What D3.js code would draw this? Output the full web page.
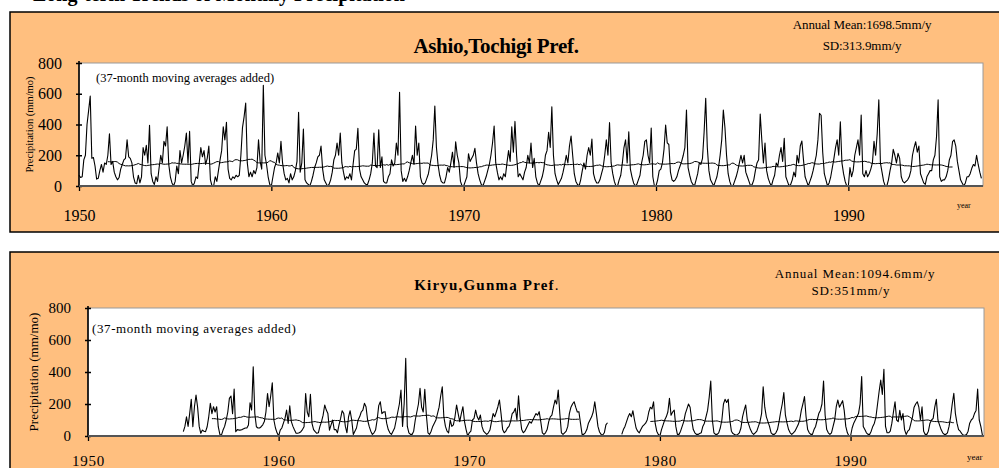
<!DOCTYPE html>
<html>
<head>
<meta charset="utf-8">
<script src="https://cdn.jsdelivr.net/npm/d3@7"></script>
<style>
  body { margin: 0; background: #fff; }
  svg { display: block; font-family: "Liberation Serif", "Times New Roman", serif; }
</style>
</head>
<body>
<svg id="chart" width="999" height="468"></svg>
<script>
// monthly precipitation (mm/mo), Jan..Dec, one line per year
var ashioStart = 1950;
var ashioPrecip = [
  70,55,60,170,200,400,490,585,180,185,130,45,      // 1950
  50,100,140,90,150,140,200,340,140,160,90,60,      // 1951
  40,55,110,140,170,180,300,190,180,150,60,20,      // 1952
  15,70,20,60,250,200,265,150,395,80,30,10,         // 1953
  60,30,120,200,150,290,260,385,140,60,20,0,        // 1954
  30,130,80,230,150,200,260,345,150,355,30,0,       // 1955
  20,60,50,150,250,190,230,140,180,260,40,0,        // 1956
  0,60,30,100,170,230,385,300,415,110,50,40,        // 1957
  60,50,70,60,70,200,380,450,540,150,60,90,         // 1958
  60,100,80,120,300,160,110,655,200,140,60,10,      // 1959
  0,60,120,150,215,150,290,150,80,40,50,20,         // 1960
  80,40,60,100,160,480,90,150,370,40,20,10,         // 1961
  0,30,70,120,150,190,200,260,110,40,20,0,          // 1962
  10,40,90,170,200,280,200,345,150,90,40,60,        // 1963
  50,80,40,140,230,240,375,110,60,40,20,10,         // 1964
  10,40,80,150,345,130,120,365,120,190,30,20,       // 1965
  20,60,80,170,130,150,280,200,610,100,30,50,       // 1966
  30,60,100,150,200,140,390,200,280,60,20,10,       // 1967
  20,50,80,140,200,300,520,250,140,70,30,20,        // 1968
  20,60,120,90,150,220,120,288,200,150,30,0,        // 1969
  0,30,60,210,160,180,200,245,150,80,40,10,         // 1970
  0,30,60,100,140,200,280,390,150,90,40,60,         // 1971
  40,80,60,150,230,160,385,220,420,200,60,80,       // 1972
  60,40,90,120,200,150,280,120,180,60,20,0,         // 1973
  30,60,110,200,230,350,250,515,200,80,40,10,       // 1974
  30,50,90,140,200,150,260,325,200,80,30,10,        // 1975
  0,40,100,150,110,200,250,200,305,80,40,20,        // 1976
  20,40,80,120,200,300,200,412,150,80,30,0,         // 1977
  0,40,70,150,250,300,150,353,110,60,20,0,          // 1978
  10,40,70,150,200,290,300,200,150,377,60,0,        // 1979
  0,40,100,110,150,240,397,280,270,90,40,30,        // 1980
  40,60,100,130,160,200,250,494,120,70,30,10,       // 1981
  0,40,80,150,140,180,350,570,250,100,40,20,        // 1982
  0,30,60,120,200,300,494,380,200,80,30,0,          // 1983
  0,30,60,100,150,200,150,200,90,60,30,0,           // 1984
  10,40,100,150,170,468,300,150,280,100,50,20,      // 1985
  0,40,70,150,130,200,250,160,310,60,30,0,          // 1986
  10,40,90,60,200,150,260,293,170,60,30,0,          // 1987
  30,60,100,150,200,300,473,460,220,80,40,0,        // 1988
  20,60,120,180,250,300,200,418,150,80,30,0,        // 1989
  0,120,60,100,200,250,300,200,462,80,60,100,       // 1990
  60,80,110,150,290,200,340,560,150,90,30,0,        // 1991
  0,40,100,150,238,200,150,212,180,60,30,20,        // 1992
  30,40,60,100,200,250,288,220,260,80,50,20,        // 1993
  10,60,80,100,100,170,200,320,560,60,30,40,        // 1994
  40,60,100,170,200,288,300,260,160,100,40,20,      // 1995
  0,20,60,60,80,115,140,130,200,140,90,50           // 1996
];

var kiryuStart = 1955;
var kiryuPrecip = [
  27,60,120,60,140,229,58,183,256,180,60,17,        // 1955
  37,30,27,58,120,204,140,183,150,183,58,10,        // 1956
  5,37,60,100,150,235,250,140,294,27,40,37,         // 1957
  37,40,45,50,50,69,208,162,433,140,58,50,          // 1958
  50,58,70,90,150,266,183,250,333,100,50,20,        // 1959
  0,37,50,80,110,162,79,188,90,60,37,17,            // 1960
  17,20,27,40,58,266,150,120,260,79,40,27,          // 1961
  17,20,60,90,130,194,162,140,37,70,100,40,         // 1962
  40,20,70,110,158,140,60,20,120,158,100,10,        // 1963
  30,50,100,120,150,162,204,183,100,60,30,10,       // 1964
  20,37,100,190,214,140,150,152,80,40,20,10,        // 1965
  30,50,100,150,200,287,60,200,485,60,20,10,        // 1966
  10,30,100,150,200,298,180,150,292,130,20,10,      // 1967
  30,60,80,100,140,180,250,308,120,60,30,20,        // 1968
  100,60,70,120,194,140,90,140,183,90,40,0,         // 1969
  20,30,100,110,162,120,100,131,60,30,20,10,        // 1970
  20,37,90,140,120,150,183,225,140,40,20,30,        // 1971
  50,60,90,140,150,173,100,252,120,40,20,30,        // 1972
  50,70,90,80,100,120,140,130,152,90,20,10,         // 1973
  20,40,90,120,130,180,225,200,287,140,20,10,       // 1974
  20,30,60,140,180,200,214,180,150,152,80,10,       // 1975
  10,20,40,80,100,120,150,214,140,60,25,10,         // 1976
  6,20,70,83,null,null,null,null,null,null,null,null, // 1977
  10,40,60,90,120,140,120,158,100,50,30,20,         // 1978
  40,60,70,80,100,150,180,170,214,80,30,10,         // 1979
  0,40,70,100,120,150,235,130,150,162,60,10,        // 1980
  10,30,60,90,140,170,200,180,100,40,20,10,         // 1981
  10,15,20,60,80,120,160,240,344,100,20,10,         // 1982
  10,20,50,100,200,229,210,229,100,30,15,10,        // 1983
  5,10,20,50,120,160,194,100,70,40,20,10,           // 1984
  20,30,60,90,140,308,180,120,90,60,20,10,          // 1985
  10,20,40,90,150,200,271,130,80,40,20,10,          // 1986
  20,30,50,70,100,160,200,246,120,40,20,10,         // 1987
  10,40,60,100,140,160,200,344,130,40,20,10,        // 1988
  20,60,100,183,225,180,200,221,160,60,20,0,        // 1989
  0,50,80,100,120,140,200,371,60,40,20,10,          // 1990
  10,30,60,80,120,200,280,350,260,417,60,20,        // 1991
  20,30,80,150,214,100,90,160,100,140,40,10,        // 1992
  30,40,80,120,180,200,214,180,100,183,30,10,       // 1993
  10,30,80,100,110,180,229,100,70,40,20,10,         // 1994
  10,20,60,120,200,267,140,80,40,30,15,5,           // 1995
  5,10,30,80,100,110,140,160,294,100,60,6           // 1996
];

var yearTicks = [1950, 1960, 1970, 1980, 1990];
var precipTicks = [0, 200, 400, 600, 800];
var windowMonths = 37;

function toSeries(start, values) {
  return values.map(function(v, i) { return { t: start + i / 12, v: v }; });
}

// centred moving average, only where the whole window has data
function movingAverage(series, n) {
  var half = Math.floor(n / 2);
  return series.map(function(d, i) {
    if (i - half < 0 || i + half >= series.length) return { t: d.t, v: null };
    var s = 0;
    for (var k = i - half; k <= i + half; k++) {
      if (series[k].v == null) return { t: d.t, v: null };
      s += series[k].v;
    }
    return { t: d.t, v: s / n };
  });
}

var svg = d3.select("#chart");

// heading of the page, mostly above the top edge
svg.append("text")
  .attr("x", 33).attr("y", 1)
  .attr("font-size", 20).attr("font-weight", "bold")
  .text("Long-term Trends of Monthly Precipitation");

function drawPanel(p) {
  var g = svg.append("g");

  g.append("rect")
    .attr("x", p.boxX).attr("y", p.boxY)
    .attr("width", 1010).attr("height", p.boxH)
    .attr("fill", "#FFBF7F").attr("stroke", "#000").attr("stroke-width", 1.5);

  var x = d3.scaleLinear().domain([1950, 1997]).range([p.x0, p.x1]);
  var y = d3.scaleLinear().domain([0, 800]).range([p.yb, p.yt]);

  g.append("rect")
    .attr("x", p.x0).attr("y", p.yt)
    .attr("width", p.x1 - p.x0).attr("height", p.yb - p.yt)
    .attr("fill", "#fff").attr("stroke", "#9a9a9a").attr("stroke-width", 1);

  // titles
  var title = g.append("text")
    .attr("x", p.titleX).attr("y", p.titleY)
    .attr("text-anchor", "middle")
    .attr("font-size", p.titleSize).attr("font-weight", "bold")
    .attr("letter-spacing", p.titleSpacing);
  title.append("tspan").text(p.title);
  if (p.titleDot) title.append("tspan").attr("font-weight", "normal").text(".");

  g.append("text")
    .attr("x", p.statX).attr("y", p.meanY)
    .attr("text-anchor", "middle")
    .attr("font-size", p.statSize).attr("letter-spacing", p.statSpacing)
    .text(p.mean);
  g.append("text")
    .attr("x", p.sdX).attr("y", p.sdY)
    .attr("text-anchor", "middle")
    .attr("font-size", p.statSize).attr("letter-spacing", p.statSpacing)
    .text(p.sd);

  g.append("text")
    .attr("x", p.x0 + p.noteDx).attr("y", p.noteY)
    .attr("font-size", p.noteSize).attr("letter-spacing", p.noteSpacing)
    .text("(37-month moving averages added)");

  // series
  var series = toSeries(p.start, p.values);
  var avg = movingAverage(series, windowMonths);
  var line = d3.line()
    .defined(function(d) { return d.v != null; })
    .x(function(d) { return x(d.t); })
    .y(function(d) { return y(d.v); });

  g.append("path").datum(series)
    .attr("d", line).attr("fill", "none")
    .attr("stroke", "#000").attr("stroke-width", 1.1)
    .attr("stroke-linejoin", "round");
  g.append("path").datum(avg)
    .attr("d", line).attr("fill", "none")
    .attr("stroke", "#000").attr("stroke-width", 1);

  // y axis
  var ya = g.append("g").attr("transform", "translate(" + p.x0 + ",0)")
    .call(d3.axisLeft(y).tickValues(precipTicks).tickSize(3).tickPadding(p.yPad));
  ya.select(".domain").remove();
  ya.selectAll(".tick line").attr("x2", -3).attr("x1", 3).attr("stroke", "#000").attr("stroke-width", 1.5);
  ya.selectAll(".tick text")
    .attr("font-family", "Liberation Serif, serif")
    .attr("font-size", p.tickSize).attr("fill", "#000");
  g.append("line")
    .attr("x1", p.x0).attr("x2", p.x0).attr("y1", p.yt - 2).attr("y2", p.yb + 1)
    .attr("stroke", "#000").attr("stroke-width", 1.6);

  // x axis
  var xa = g.append("g").attr("transform", "translate(0," + p.yb + ")")
    .call(d3.axisBottom(x).tickValues(yearTicks).tickFormat(d3.format("d"))
      .tickSize(5).tickPadding(p.xPad));
  xa.select(".domain").remove();
  xa.selectAll(".tick line").attr("stroke", "#000").attr("stroke-width", 1.3);
  xa.selectAll(".tick text")
    .attr("font-family", "Liberation Serif, serif")
    .attr("font-size", p.tickSize).attr("letter-spacing", p.yearSpacing).attr("fill", "#000");
  g.append("line")
    .attr("x1", p.x0).attr("x2", p.x1).attr("y1", p.yb).attr("y2", p.yb)
    .attr("stroke", "#555").attr("stroke-width", 2);

  g.append("text")
    .attr("x", p.yearX).attr("y", p.yearY)
    .attr("font-size", p.yearSize).text("year");

  g.append("text")
    .attr("transform", "translate(" + p.ytitleX + "," + ((p.yt + p.yb) / 2) + ") rotate(-90)")
    .attr("text-anchor", "middle")
    .attr("font-size", p.ytitleSize)
    .text("Precipitation (mm/mo)");
}

drawPanel({
  start: ashioStart, values: ashioPrecip,
  boxX: 10, boxY: 12, boxH: 220,
  x0: 79, x1: 983, yt: 63, yb: 186,
  title: "Ashio,Tochigi Pref.", titleDot: false, titleX: 496, titleY: 53, titleSize: 21, titleSpacing: -0.3,
  mean: "Annual Mean:1698.5mm/y", sd: "SD:313.9mm/y",
  statX: 862, sdX: 862, meanY: 29, sdY: 50, statSize: 13, statSpacing: -0.1,
  noteDx: 17, noteY: 82, noteSize: 12.5, noteSpacing: 0,
  tickSize: 16, yPad: 14, xPad: 19, yearSpacing: 0,
  yearX: 957, yearY: 208, yearSize: 8,
  ytitleX: 33, ytitleSize: 10.5
});

drawPanel({
  start: kiryuStart, values: kiryuPrecip,
  boxX: 10, boxY: 252, boxH: 230,
  x0: 88, x1: 984, yt: 308, yb: 436,
  title: "Kiryu,Gunma Pref", titleDot: true, titleX: 487, titleY: 290, titleSize: 15, titleSpacing: 1.2,
  mean: "Annual Mean:1094.6mm/y", sd: "SD:351mm/y",
  statX: 855, sdX: 851, meanY: 278, sdY: 295, statSize: 13, statSpacing: 0.9,
  noteDx: 4, noteY: 333, noteSize: 13, noteSpacing: 0.6,
  tickSize: 15, yPad: 14, xPad: 14, yearSpacing: 0.8,
  yearX: 967, yearY: 460, yearSize: 9,
  ytitleX: 38, ytitleSize: 13
});
</script>
</body>
</html>
